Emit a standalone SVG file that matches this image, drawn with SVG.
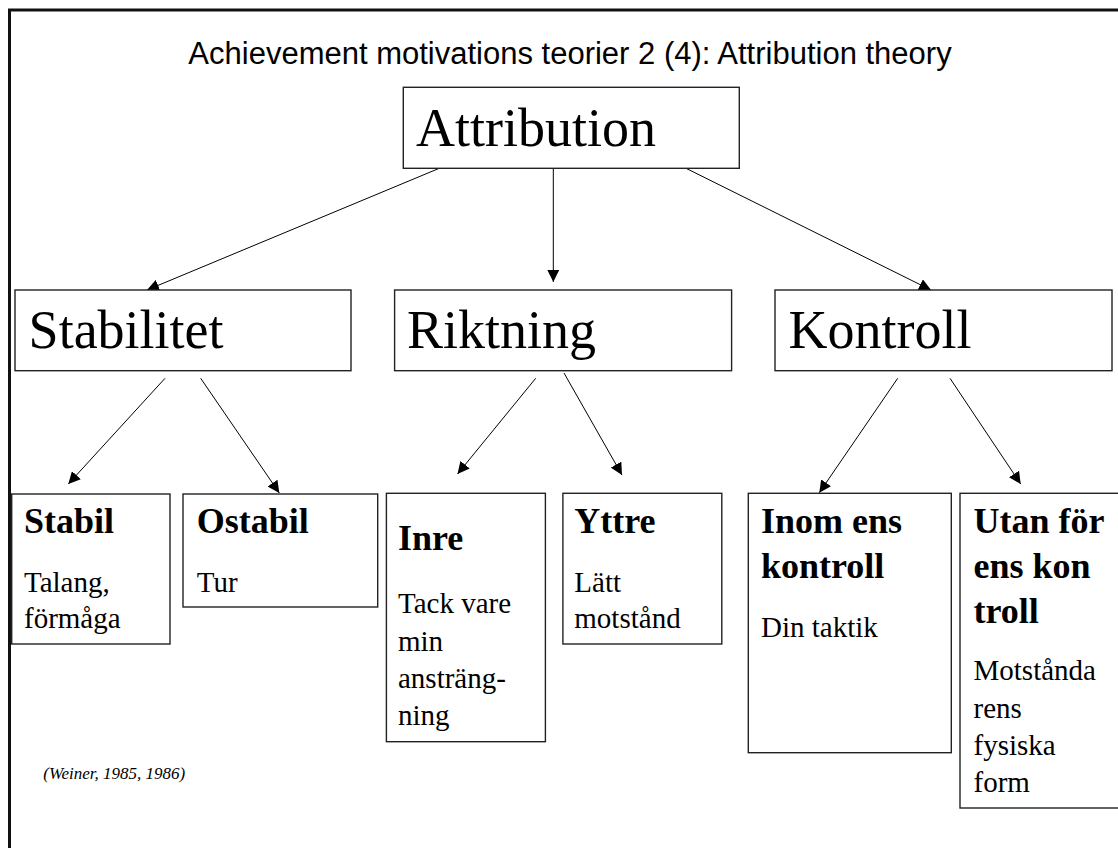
<svg xmlns="http://www.w3.org/2000/svg" width="1118" height="848" viewBox="0 0 1118 848">
<defs>
<style>
.box{fill:#fff;stroke:#222;stroke-width:1.4}
.big{font-family:"Liberation Serif",serif;font-size:54px;fill:#000}
.hd{font-family:"Liberation Serif",serif;font-size:36px;font-weight:bold;fill:#000}
.tx{font-family:"Liberation Serif",serif;font-size:29px;fill:#000}
.edge{stroke:#000;stroke-width:1;fill:none;marker-end:url(#ah)}
</style>
<marker id="ah" markerUnits="userSpaceOnUse" markerWidth="12" markerHeight="12" refX="12" refY="6" orient="auto">
<path d="M0,0 L12,6 L0,12 z" fill="#000"/>
</marker>
</defs>
<rect x="0" y="0" width="1118" height="848" fill="#fff"/>
<rect x="9.5" y="10" width="1130" height="860" fill="none" stroke="#111" stroke-width="3"/>
<text x="570" y="64" text-anchor="middle" font-family="Liberation Sans, Arial, sans-serif" font-size="31" fill="#000">Achievement motivations teorier 2 (4): Attribution theory</text>

<g id="connectors">
<line class="edge" x1="439.3" y1="168.3" x2="147" y2="290"/>
<line class="edge" x1="553.3" y1="168.3" x2="553.3" y2="282"/>
<line class="edge" x1="686" y1="168.3" x2="931" y2="290"/>
<line class="edge" x1="165" y1="378.3" x2="68.3" y2="484"/>
<line class="edge" x1="200.7" y1="378.3" x2="279.3" y2="493"/>
<line class="edge" x1="535.7" y1="378.3" x2="457.5" y2="474"/>
<line class="edge" x1="564" y1="373" x2="622" y2="475"/>
<line class="edge" x1="897.7" y1="378.3" x2="819.3" y2="492.7"/>
<line class="edge" x1="950" y1="378.3" x2="1020.7" y2="484"/>
</g>

<g id="attribution">
<rect class="box" x="403.3" y="87.3" width="336" height="81"/>
<text class="big" x="416" y="146">Attribution</text>
</g>
<g id="stabilitet">
<rect class="box" x="15" y="290" width="336" height="80.7"/>
<text class="big" x="28.6" y="348">Stabilitet</text>
</g>
<g id="riktning">
<rect class="box" x="394.6" y="290" width="337" height="80.7"/>
<text class="big" x="407" y="348">Riktning</text>
</g>
<g id="kontroll">
<rect class="box" x="775" y="290" width="337" height="80.7"/>
<text class="big" x="788.6" y="348">Kontroll</text>
</g>

<g id="stabil">
<rect class="box" x="11.7" y="494" width="158.3" height="150"/>
<text class="hd" x="24" y="533">Stabil</text>
<text class="tx" x="24" y="591.7">Talang,</text>
<text class="tx" x="24" y="628">förmåga</text>
</g>
<g id="ostabil">
<rect class="box" x="183" y="494" width="194.7" height="113"/>
<text class="hd" x="196.7" y="533">Ostabil</text>
<text class="tx" x="196.7" y="591.7">Tur</text>
</g>
<g id="inre">
<rect class="box" x="386.4" y="493.3" width="159" height="248.4"/>
<text class="hd" x="398" y="550">Inre</text>
<text class="tx" x="398" y="613.3">Tack vare</text>
<text class="tx" x="398" y="651">min</text>
<text class="tx" x="398" y="688.3">ansträng-</text>
<text class="tx" x="398" y="725">ning</text>
</g>
<g id="yttre">
<rect class="box" x="562.9" y="493.3" width="158.9" height="150.7"/>
<text class="hd" x="574.3" y="533">Yttre</text>
<text class="tx" x="574.3" y="591.7">Lätt</text>
<text class="tx" x="574.3" y="628.3">motstånd</text>
</g>
<g id="inom">
<rect class="box" x="748.3" y="493.3" width="203" height="259.4"/>
<text class="hd" x="761" y="533.3">Inom ens</text>
<text class="hd" x="761" y="578.3">kontroll</text>
<text class="tx" x="761" y="636.7">Din taktik</text>
</g>
<g id="utan">
<rect class="box" x="960" y="493.3" width="170" height="314.7"/>
<text class="hd" x="973.5" y="533.3">Utan för</text>
<text class="hd" x="973.5" y="578.3">ens kon</text>
<text class="hd" x="973.5" y="623.3">troll</text>
<text class="tx" x="973.5" y="680">Motstånda</text>
<text class="tx" x="973.5" y="718.3">rens</text>
<text class="tx" x="973.5" y="755">fysiska</text>
<text class="tx" x="973.5" y="791.7">form</text>
</g>

<text x="43.3" y="779" font-family="Liberation Serif, serif" font-style="italic" font-size="17" fill="#000">(Weiner, 1985, 1986)</text>
</svg>
